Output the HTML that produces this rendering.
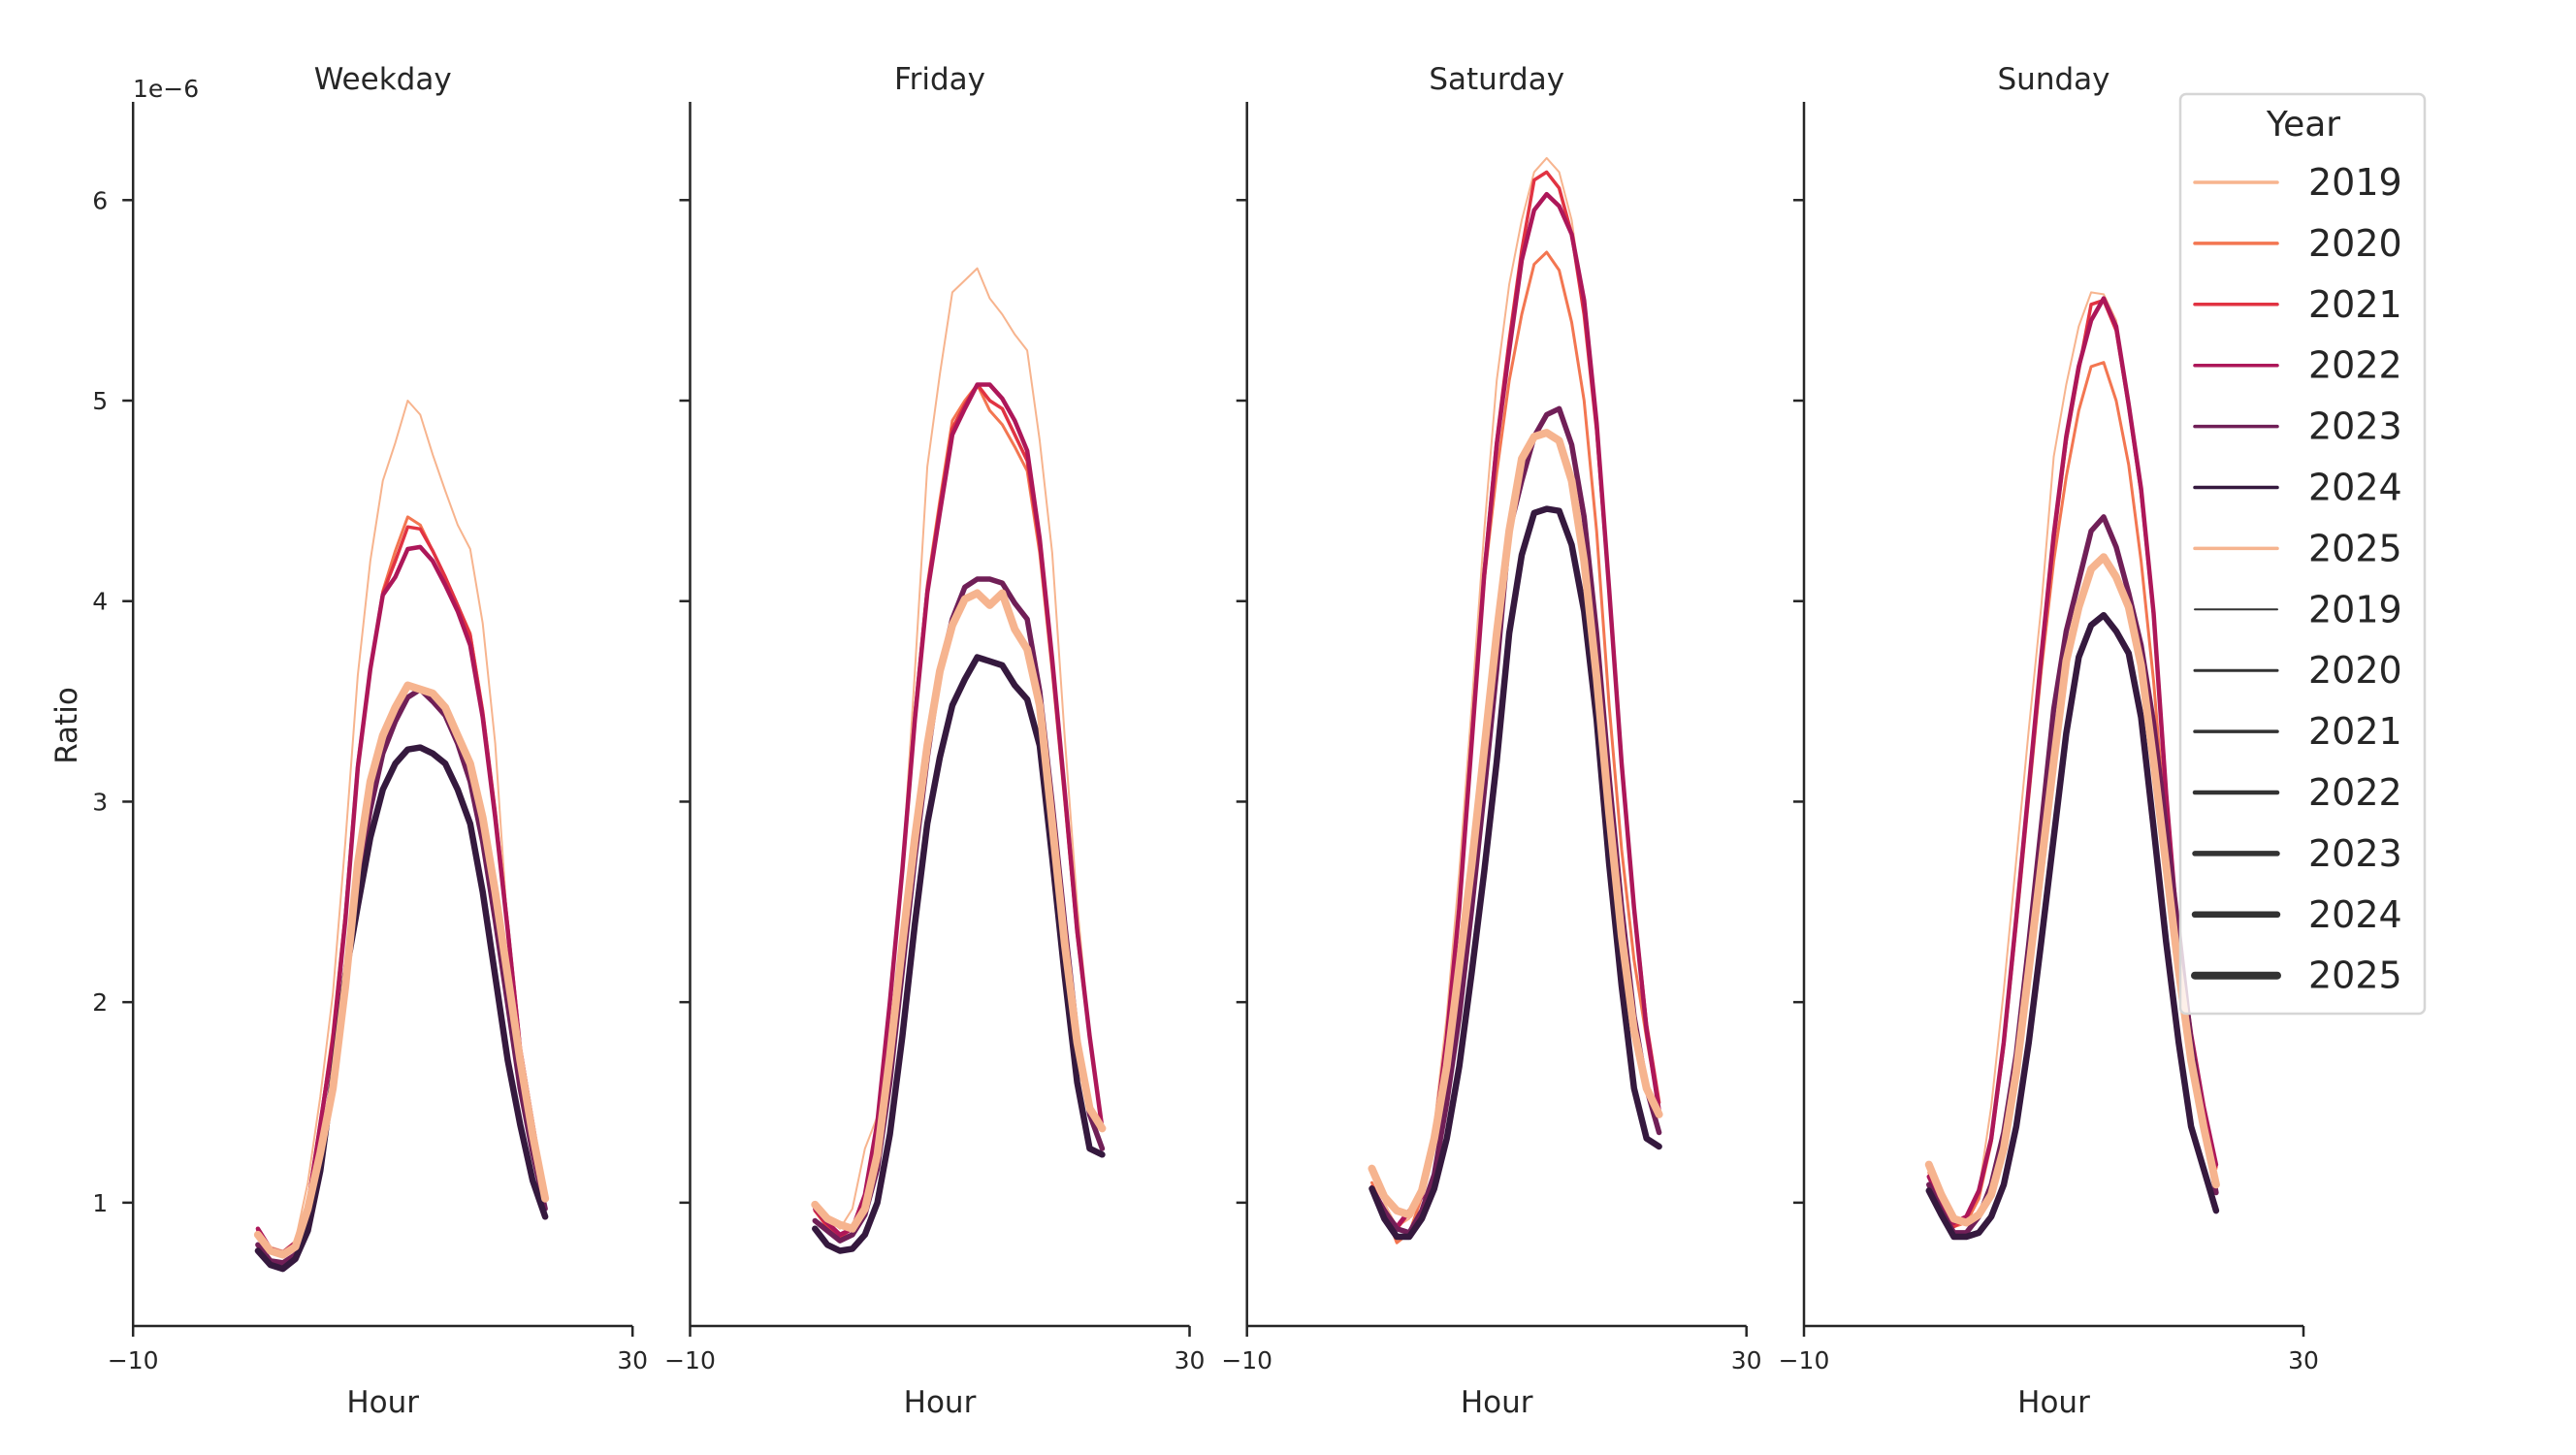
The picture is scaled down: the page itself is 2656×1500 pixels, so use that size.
<!DOCTYPE html>
<html><head><meta charset="utf-8"><style>
html,body{margin:0;padding:0;background:#fff;}
svg{display:block;font-family:"DejaVu Sans","Liberation Sans",sans-serif;}
</style></head><body>
<svg id="chart" width="2656" height="1500" viewBox="0 0 2656 1500" xmlns="http://www.w3.org/2000/svg"></svg>
<script>
const panels = ["Weekday","Friday","Saturday","Sunday"];
const years = ["2019","2020","2021","2022","2023","2024","2025"];
const hours = [0,1,2,3,4,5,6,7,8,9,10,11,12,13,14,15,16,17,18,19,20,21,22,23];
const yTicks = [1,2,3,4,5,6];
const xTicks = [-10,30];
const colors = ["#f7b48e","#f37651","#e13342","#ad1759","#701f57","#35193e","#f6b48f"];
const widths = [2,3,3.5,4.5,5.5,6.5,8];

const weekday2019 = [0.86,0.78,0.76,0.81,1.1,1.53,2.04,2.8,3.63,4.2,4.6,4.79,5.0,4.93,4.73,4.55,4.38,4.26,3.89,3.29,2.36,1.7,1.3,1.05];
const weekday2020 = [0.87,0.77,0.75,0.8,1.0,1.4,1.85,2.45,3.2,3.66,4.05,4.25,4.42,4.38,4.25,4.12,3.98,3.84,3.45,2.95,2.38,1.78,1.4,1.03];
const weekday2021 = [0.86,0.77,0.75,0.8,1.0,1.4,1.82,2.43,3.18,3.66,4.04,4.2,4.37,4.36,4.25,4.12,3.98,3.83,3.45,2.95,2.38,1.78,1.4,1.03];
const weekday2022 = [0.87,0.77,0.75,0.8,0.98,1.39,1.8,2.41,3.17,3.66,4.03,4.12,4.26,4.27,4.2,4.08,3.95,3.78,3.42,2.92,2.36,1.76,1.39,1.02];
const weekday2023 = [0.79,0.71,0.7,0.74,0.9,1.2,1.62,2.15,2.59,2.96,3.24,3.4,3.52,3.56,3.5,3.43,3.29,3.1,2.8,2.41,1.99,1.57,1.25,0.97];
const weekday2024 = [0.76,0.69,0.67,0.72,0.86,1.16,1.62,2.13,2.48,2.82,3.06,3.19,3.26,3.27,3.24,3.19,3.06,2.89,2.55,2.13,1.71,1.39,1.11,0.93];
const weekday2025 = [0.84,0.76,0.74,0.78,0.97,1.25,1.57,2.08,2.69,3.1,3.33,3.47,3.58,3.56,3.54,3.47,3.33,3.19,2.92,2.55,2.13,1.71,1.34,1.02];

const friday2019 = [1.0,0.92,0.87,0.97,1.27,1.43,2.0,2.66,3.65,4.67,5.13,5.54,5.6,5.66,5.51,5.43,5.33,5.25,4.8,4.24,3.32,2.49,1.83,1.4];
const friday2020 = [0.96,0.89,0.84,0.87,1.04,1.4,2.0,2.68,3.45,4.08,4.5,4.9,5.0,5.08,4.95,4.88,4.77,4.65,4.24,3.65,3.0,2.33,1.82,1.37];
const friday2021 = [0.96,0.88,0.83,0.87,1.04,1.4,2.0,2.66,3.43,4.06,4.47,4.86,4.98,5.08,5.0,4.96,4.83,4.7,4.28,3.68,3.03,2.35,1.83,1.37];
const friday2022 = [0.97,0.9,0.84,0.87,1.04,1.4,2.0,2.66,3.41,4.04,4.44,4.83,4.96,5.08,5.08,5.01,4.9,4.75,4.31,3.71,3.05,2.36,1.83,1.37];
const friday2023 = [0.91,0.86,0.81,0.84,0.94,1.17,1.6,2.16,2.72,3.22,3.65,3.91,4.07,4.11,4.11,4.09,3.99,3.91,3.55,2.99,2.39,1.83,1.44,1.27];
const friday2024 = [0.87,0.79,0.76,0.77,0.84,1.0,1.34,1.83,2.39,2.89,3.22,3.48,3.61,3.72,3.7,3.68,3.58,3.51,3.28,2.72,2.13,1.6,1.27,1.24];
const friday2025 = [0.99,0.92,0.89,0.87,0.97,1.24,1.73,2.29,2.82,3.28,3.65,3.88,4.01,4.04,3.98,4.04,3.86,3.76,3.48,2.89,2.29,1.8,1.47,1.37];

const saturday2019 = [1.17,1.0,0.88,0.92,1.06,1.39,1.93,2.65,3.48,4.35,5.1,5.58,5.9,6.14,6.21,6.14,5.9,5.45,4.87,4.08,3.2,2.48,1.9,1.5];
const saturday2020 = [1.1,0.96,0.8,0.85,1.03,1.32,1.82,2.47,3.3,4.1,4.64,5.1,5.43,5.68,5.74,5.65,5.39,5.0,4.35,3.48,2.76,2.21,1.82,1.46];
const saturday2021 = [1.08,0.97,0.87,0.95,1.04,1.33,1.83,2.48,3.32,4.15,4.8,5.3,5.75,6.1,6.14,6.06,5.83,5.43,4.85,4.06,3.19,2.47,1.89,1.5];
const saturday2022 = [1.07,0.96,0.88,0.96,1.03,1.32,1.82,2.47,3.3,4.13,4.78,5.25,5.7,5.95,6.03,5.97,5.83,5.5,4.89,4.06,3.19,2.47,1.86,1.46];
const saturday2023 = [1.07,0.96,0.87,0.85,0.96,1.14,1.5,1.93,2.47,3.05,3.66,4.35,4.6,4.82,4.93,4.96,4.78,4.42,3.84,3.12,2.47,1.93,1.57,1.35];
const saturday2024 = [1.07,0.92,0.83,0.83,0.92,1.07,1.32,1.68,2.15,2.65,3.2,3.84,4.23,4.44,4.46,4.45,4.28,3.95,3.41,2.69,2.08,1.57,1.32,1.28];
const saturday2025 = [1.17,1.03,0.96,0.94,1.06,1.32,1.68,2.18,2.69,3.26,3.84,4.35,4.71,4.82,4.84,4.8,4.6,4.2,3.62,2.94,2.33,1.86,1.57,1.44];

const sunday2019 = [1.18,1.02,0.9,0.92,1.06,1.48,2.06,2.71,3.36,3.97,4.72,5.08,5.37,5.54,5.53,5.4,5.0,4.55,3.92,3.02,2.27,1.82,1.46,1.18];
const sunday2020 = [1.15,1.0,0.88,0.9,1.02,1.3,1.78,2.38,3.02,3.65,4.2,4.62,4.95,5.17,5.19,5.0,4.68,4.2,3.6,2.85,2.2,1.78,1.45,1.17];
const sunday2021 = [1.13,0.99,0.88,0.92,1.05,1.31,1.79,2.41,3.06,3.7,4.3,4.8,5.15,5.48,5.5,5.35,4.97,4.54,3.93,3.03,2.28,1.83,1.48,1.18];
const sunday2022 = [1.13,1.0,0.9,0.93,1.06,1.32,1.8,2.42,3.07,3.72,4.33,4.82,5.17,5.4,5.51,5.37,4.98,4.56,3.94,3.04,2.29,1.84,1.48,1.19];
const sunday2023 = [1.09,0.96,0.85,0.85,0.93,1.09,1.35,1.74,2.29,2.87,3.46,3.85,4.1,4.35,4.42,4.27,4.04,3.78,3.39,2.87,2.35,1.8,1.4,1.05];
const sunday2024 = [1.06,0.94,0.83,0.83,0.85,0.93,1.09,1.38,1.8,2.3,2.82,3.34,3.72,3.88,3.93,3.85,3.74,3.42,2.87,2.3,1.8,1.38,1.17,0.96];
const sunday2025 = [1.19,1.04,0.92,0.9,0.94,1.04,1.27,1.65,2.16,2.68,3.2,3.7,3.97,4.16,4.22,4.12,3.97,3.68,3.2,2.68,2.16,1.71,1.38,1.09];

const series = [
  [weekday2019,weekday2020,weekday2021,weekday2022,weekday2023,weekday2024,weekday2025],
  [friday2019,friday2020,friday2021,friday2022,friday2023,friday2024,friday2025],
  [saturday2019,saturday2020,saturday2021,saturday2022,saturday2023,saturday2024,saturday2025],
  [sunday2019,sunday2020,sunday2021,sunday2022,sunday2023,sunday2024,sunday2025]
];

const SVGNS = "http://www.w3.org/2000/svg";
const chartSvg = document.getElementById("chart");
const panelLeft = [137.2, 711.5, 1285.7, 1860];
const panelW = 515, plotTop = 105, plotBottom = 1367;
const xMin = -10, xMax = 30, yMin = 0.385, yMax = 6.49;
function xScale(p, v){ return panelLeft[p] + (v - xMin) / (xMax - xMin) * panelW; }
function yScale(v){ return plotBottom - (v - yMin) / (yMax - yMin) * (plotBottom - plotTop); }
function mk(tag, attrs, parent){ const e = document.createElementNS(SVGNS, tag); for (const k in attrs) e.setAttribute(k, attrs[k]); (parent||chartSvg).appendChild(e); return e; }
const ink = "#262626";

panels.forEach((name, p) => {
  const g = mk("g", {});
  
  
  const L = panelLeft[p];
  const t = mk("text", {x: L + panelW/2, y: 92, "font-size": 31, "text-anchor": "middle", fill: ink}, g);
  t.textContent = name;
  
  
  series[p].forEach((vals, s) => {
    const d = vals.map((v, i) => (i ? "L" : "M") + xScale(p, hours[i]).toFixed(1) + "," + yScale(v).toFixed(1)).join(" ");
    const path = mk("path", {d: d, fill: "none", stroke: colors[s], "stroke-width": widths[s], "stroke-linejoin": "round", "stroke-linecap": "round"}, g);
    
    
  });
  const ya = mk("line", {x1: L, y1: plotTop, x2: L, y2: plotBottom, stroke: ink, "stroke-width": 2.5}, g);
  
  
  const xa = mk("line", {x1: L, y1: plotBottom, x2: L + panelW, y2: plotBottom, stroke: ink, "stroke-width": 2.5}, g);
  
  
  yTicks.forEach(v => {
    const y = yScale(v);
    const tk = mk("line", {x1: L - 11, y1: y, x2: L, y2: y, stroke: ink, "stroke-width": 2.5}, g);
    
    
    if (p === 0) {
      const tl = mk("text", {x: L - 26, y: y + 9, "font-size": 25, "text-anchor": "end", fill: ink}, g);
      tl.textContent = String(v);
      
      
    }
  });
  xTicks.forEach(v => {
    const x = xScale(p, v);
    const tk = mk("line", {x1: x, y1: plotBottom, x2: x, y2: plotBottom + 11, stroke: ink, "stroke-width": 2.5}, g);
    
    
    const tl = mk("text", {x: x, y: plotBottom + 44, "font-size": 25, "text-anchor": "middle", fill: ink}, g);
    tl.textContent = v < 0 ? "\u2212" + Math.abs(v) : String(v);
    
    
  });
  const xl = mk("text", {x: L + panelW/2, y: 1456, "font-size": 31, "text-anchor": "middle", fill: ink}, g);
  xl.textContent = "Hour";
  
  
});

const yl = mk("text", {x: 0, y: 0, "font-size": 31, "text-anchor": "middle", fill: ink, transform: "translate(79,748) rotate(-90)"});
yl.textContent = "Ratio";


const offsetLabel = mk("text", {x: 137, y: 100, "font-size": 25, fill: ink});
offsetLabel.textContent = "1e\u22126";



const lg = mk("g", {});


const box = mk("rect", {x: 2248, y: 97, width: 252, height: 948, rx: 6, fill: "rgba(255,255,255,0.8)", stroke: "#d6d6d6", "stroke-width": 2.5}, lg);


const lt = mk("text", {x: 2375, y: 140, "font-size": 36, "text-anchor": "middle", fill: ink}, lg);
lt.textContent = "Year";


const entries = years.map((y, i) => ({label: y, color: colors[i], w: 3.5})).concat(years.map((y, i) => ({label: y, color: "#333333", w: widths[i]})));
entries.forEach((e, i) => {
  const cy = 188 + i * 62.9;
  const ln = mk("line", {x1: 2263, y1: cy, x2: 2348, y2: cy, stroke: e.color, "stroke-width": e.w, "stroke-linecap": "round"}, lg);
  
  
  const tx = mk("text", {x: 2380, y: cy + 13, "font-size": 38, fill: ink}, lg);
  tx.textContent = e.label;
  
  
});
</script>
</body></html>
